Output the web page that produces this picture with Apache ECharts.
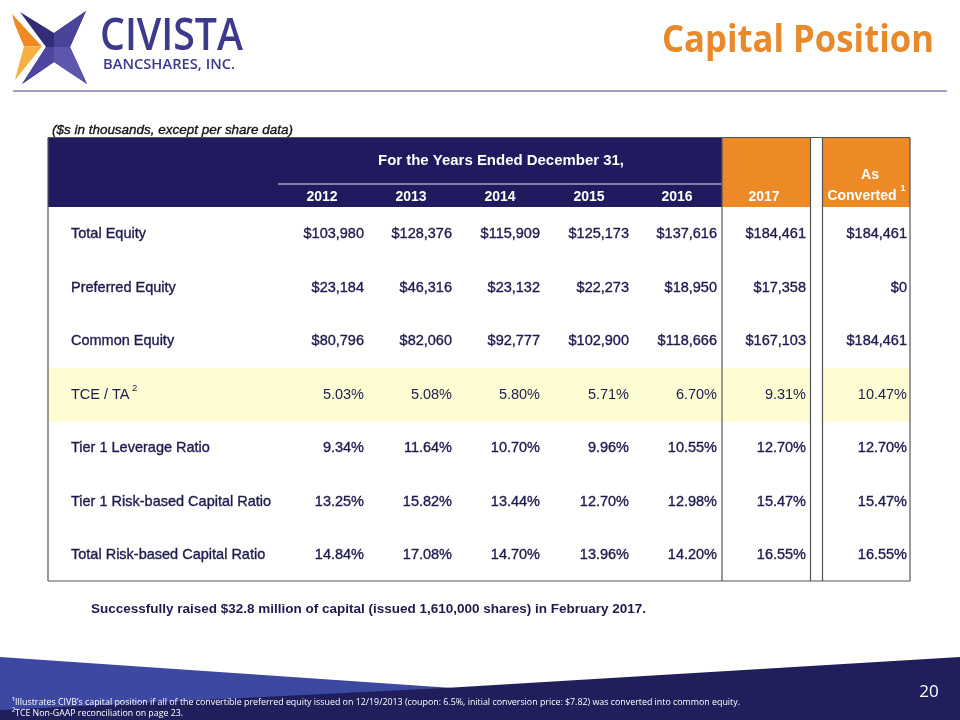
<!DOCTYPE html>
<html><head><meta charset="utf-8">
<script src="https://cdn.jsdelivr.net/npm/echarts@6/dist/echarts.min.js"></script>
<style>html,body{margin:0;padding:0;background:#fff}#c{width:960px;height:720px}</style>
</head><body><div id="c"></div>
<script>
// ---- data ----
const columns = ['2012', '2013', '2014', '2015', '2016', '2017', 'As Converted'];
const rowLabels = ['Total Equity', 'Preferred Equity', 'Common Equity', 'TCE / TA', 'Tier 1 Leverage Ratio', 'Tier 1 Risk-based Capital Ratio', 'Total Risk-based Capital Ratio'];
const totalEquity = [103980, 128376, 115909, 125173, 137616, 184461, 184461];
const preferredEquity = [23184, 46316, 23132, 22273, 18950, 17358, 0];
const commonEquity = [80796, 82060, 92777, 102900, 118666, 167103, 184461];
const tceTa = [5.03, 5.08, 5.80, 5.71, 6.70, 9.31, 10.47];
const tier1Leverage = [9.34, 11.64, 10.70, 9.96, 10.55, 12.70, 12.70];
const tier1RiskBased = [13.25, 15.82, 13.44, 12.70, 12.98, 15.47, 15.47];
const totalRiskBased = [14.84, 17.08, 14.70, 13.96, 14.20, 16.55, 16.55];

const rows = [
  {vals: totalEquity, fmt: 'money'},
  {vals: preferredEquity, fmt: 'money'},
  {vals: commonEquity, fmt: 'money'},
  {vals: tceTa, fmt: 'pct', plain: true, sup: '2'},
  {vals: tier1Leverage, fmt: 'pct'},
  {vals: tier1RiskBased, fmt: 'pct'},
  {vals: totalRiskBased, fmt: 'pct'}
];

// ---- helpers ----
const mctx = document.createElement('canvas').getContext('2d');
function fitScale(text, font, w) { mctx.font = font; return w / mctx.measureText(text).width; }
function money(v) { return '$' + v.toLocaleString('en-US'); }
function pct(v) { return v.toFixed(2) + '%'; }

const NAVY = '#1f1b5e';
const TXT = '#1d1a4e';
const ORANGE = '#ee8a26';
const BORDER = '#555555';
const BASE = '14.5px "Liberation Sans", Arial, sans-serif';

const colRight = [364, 452, 540, 629, 717, 806, 907];
const colCenter = [322, 411, 500, 589, 677, 764, 862];
const rowY0 = 234.3, rowStep = 53.5;

const g = [];

// logo star
g.push({type: 'polygon', shape: {points: [[20,12],[54,33],[86,11],[70,47],[87,84],[54,62],[22,84],[46,47]]}, style: {fill: '#332d77'}});
g.push({type: 'polygon', shape: {points: [[54,47],[54,33],[86,11],[70,47]]}, style: {fill: '#4a439a'}});
g.push({type: 'polygon', shape: {points: [[54,47],[70,47],[87,84],[54,62]]}, style: {fill: '#5c56ad'}});
g.push({type: 'polygon', shape: {points: [[54,47],[54,62],[22,84],[46,47]]}, style: {fill: '#4d47a0'}});
g.push({type: 'polygon', shape: {points: [[12,14],[42,46.5],[24,46.5],[15,25]]}, style: {fill: '#ef8a22'}});
g.push({type: 'polygon', shape: {points: [[24,46.5],[42,46.5],[15,80],[18,68]]}, style: {fill: '#f6b042'}});

// logo text
const civFont = '600 46px "Open Sans", sans-serif';
g.push({type: 'text', x: 100, y: 37, scaleX: fitScale('CIVISTA', civFont, 143), style: {text: 'CIVISTA', font: civFont, fill: '#3d3a8c', textAlign: 'left', textVerticalAlign: 'middle'}});
const bancFont = '600 15px "Open Sans", sans-serif';
g.push({type: 'text', x: 103, y: 64.5, scaleX: fitScale('BANCSHARES, INC.', bancFont, 132), style: {text: 'BANCSHARES, INC.', font: bancFont, fill: '#3d3a8c', textAlign: 'left', textVerticalAlign: 'middle'}});

// title
const titleFont = 'bold 37px "Open Sans", sans-serif';
g.push({type: 'text', x: 662, y: 41, scaleX: fitScale('Capital Position', titleFont, 272), style: {text: 'Capital Position', font: titleFont, fill: '#e8892b', textAlign: 'left', textVerticalAlign: 'middle'}});

// rule
g.push({type: 'line', shape: {x1: 13, y1: 91, x2: 947, y2: 91}, style: {stroke: '#9d9dca', lineWidth: 2}});

// subtitle
const subFont = 'italic 13.5px "Liberation Sans", Arial, sans-serif';
g.push({type: 'text', x: 52, y: 130, scaleX: fitScale('($s in thousands, except per share data)', subFont, 241), style: {text: '($s in thousands, except per share data)', font: subFont, fill: '#111', stroke: '#111', lineWidth: 0.35, textAlign: 'left', textVerticalAlign: 'middle'}});

// header blocks
g.push({type: 'rect', shape: {x: 48, y: 137.5, width: 674, height: 69.5}, style: {fill: NAVY}});
g.push({type: 'rect', shape: {x: 722, y: 137.5, width: 88.5, height: 69.5}, style: {fill: ORANGE}});
g.push({type: 'rect', shape: {x: 822.5, y: 137.5, width: 87.5, height: 69.5}, style: {fill: ORANGE}});
g.push({type: 'line', shape: {x1: 278, y1: 184, x2: 722, y2: 184}, style: {stroke: '#e4e4f2', lineWidth: 1.2}});

const hFont = 'bold 14px "Liberation Sans", Arial, sans-serif';
const hTitle = 'For the Years Ended December 31,';
g.push({type: 'text', x: 501, y: 161, scaleX: fitScale(hTitle, hFont, 246), style: {text: hTitle, font: hFont, fill: '#fff', textAlign: 'center', textVerticalAlign: 'middle'}});
columns.forEach((c, i) => {
  if (i < 6) {
    g.push({type: 'text', x: colCenter[i], y: 197, style: {text: c, font: hFont, fill: '#fff', textAlign: 'center', textVerticalAlign: 'middle'}});
  } else {
    const parts = c.split(' ');
    g.push({type: 'text', x: 870, y: 175, style: {text: parts[0], font: hFont, fill: '#fff', textAlign: 'center', textVerticalAlign: 'middle'}});
    g.push({type: 'text', x: colCenter[i], y: 196, style: {text: parts[1], font: hFont, fill: '#fff', textAlign: 'center', textVerticalAlign: 'middle'}});
    g.push({type: 'text', x: 903, y: 189, style: {text: '1', font: 'bold 9px "Liberation Sans", Arial, sans-serif', fill: '#fff', textAlign: 'center', textVerticalAlign: 'middle'}});
  }
});

// highlight band (TCE / TA row)
const hlY = rowY0 + 3 * rowStep;
g.push({type: 'rect', shape: {x: 48.5, y: hlY - 27, width: 762, height: 54}, style: {fill: '#fefcd2'}});
g.push({type: 'rect', shape: {x: 822.5, y: hlY - 27, width: 87.5, height: 54}, style: {fill: '#fefcd2'}});

// rows
rows.forEach((r, ri) => {
  const y = rowY0 + ri * rowStep;
  const bold = !r.plain;
  const st = (t, align) => ({text: t, font: BASE, fill: TXT, textAlign: align, textVerticalAlign: 'middle',
                             stroke: bold ? TXT : null, lineWidth: bold ? 0.35 : 0});
  g.push({type: 'text', x: 71, y: y, style: st(rowLabels[ri], 'left')});
  if (r.sup) {
    mctx.font = BASE;
    const w = mctx.measureText(rowLabels[ri]).width;
    g.push({type: 'text', x: 71 + w + 5, y: y - 6, style: {text: r.sup, font: '9.5px "Liberation Sans", Arial, sans-serif', fill: TXT, textAlign: 'center', textVerticalAlign: 'middle'}});
  }
  r.vals.forEach((v, ci) => {
    const t = r.fmt === 'money' ? money(v) : pct(v);
    g.push({type: 'text', x: colRight[ci], y: y, style: st(t, 'right')});
  });
});

// table borders
const tb = 581;
g.push({type: 'line', shape: {x1: 48, y1: 137.5, x2: 48, y2: tb}, style: {stroke: BORDER, lineWidth: 1.2}});
g.push({type: 'line', shape: {x1: 48, y1: tb, x2: 910, y2: tb}, style: {stroke: BORDER, lineWidth: 1.2}});
g.push({type: 'line', shape: {x1: 910, y1: 137.5, x2: 910, y2: tb}, style: {stroke: BORDER, lineWidth: 1.2}});
g.push({type: 'line', shape: {x1: 48, y1: 137.5, x2: 910, y2: 137.5}, style: {stroke: BORDER, lineWidth: 1}});
[722, 810.5, 822.5].forEach(x => g.push({type: 'line', shape: {x1: x, y1: 137.5, x2: x, y2: tb}, style: {stroke: BORDER, lineWidth: 1.2}}));

// note below table
const noteFont = 'bold 13px "Liberation Sans", Arial, sans-serif';
const note = 'Successfully raised $32.8 million of capital (issued 1,610,000 shares) in February 2017.';
g.push({type: 'text', x: 91, y: 609, scaleX: fitScale(note, noteFont, 555), style: {text: note, font: noteFont, fill: TXT, textAlign: 'left', textVerticalAlign: 'middle'}});

// footer shapes
g.push({type: 'polygon', shape: {points: [[0,657],[482,690],[482,720],[0,720]]}, style: {fill: '#3d48a0'}});
g.push({type: 'polygon', shape: {points: [[0,710],[445,688],[960,657],[960,720],[0,720]]}, style: {fill: '#201f5c'}});

const fnFont = '9.5px "Open Sans", sans-serif';
const fn1 = '¹Illustrates CIVB’s capital position if all of the convertible preferred equity issued on 12/19/2013 (coupon: 6.5%, initial conversion price: $7.82) was converted into common equity.';
const fn2 = '²TCE Non-GAAP reconciliation on page 23.';
g.push({type: 'text', x: 12, y: 702, scaleX: fitScale(fn1, fnFont, 728), style: {text: fn1, font: fnFont, fill: '#fff', textAlign: 'left', textVerticalAlign: 'middle'}});
g.push({type: 'text', x: 12, y: 713.5, scaleX: fitScale(fn2, fnFont, 171), style: {text: fn2, font: fnFont, fill: '#fff', textAlign: 'left', textVerticalAlign: 'middle'}});
g.push({type: 'text', x: 929, y: 692, style: {text: '20', font: '17px "Open Sans", sans-serif', fill: '#fff', textAlign: 'center', textVerticalAlign: 'middle'}});

const chart = echarts.init(document.getElementById('c'), null, {renderer: 'canvas'});
chart.setOption({animation: false, backgroundColor: '#ffffff', graphic: {elements: g}});
</script>
</body></html>
